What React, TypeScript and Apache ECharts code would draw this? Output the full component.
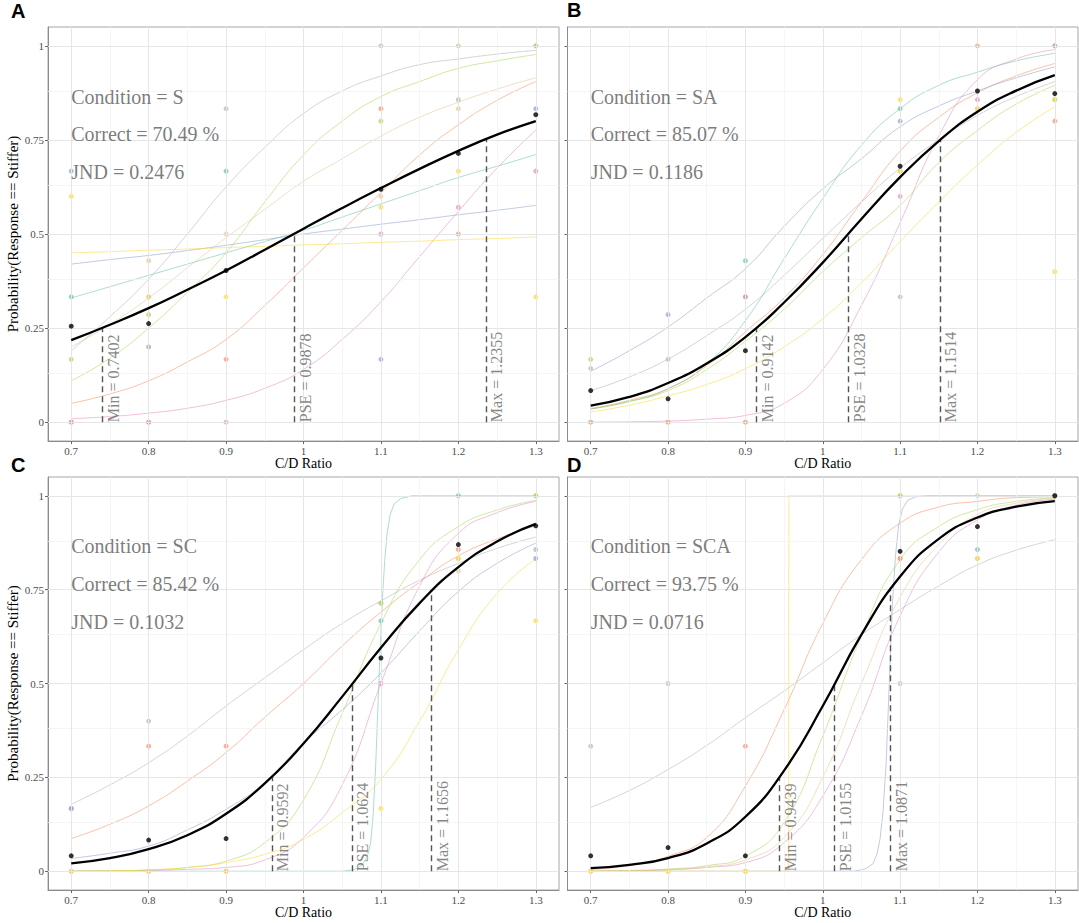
import React, { useEffect, useRef } from "react";
import * as echarts from "echarts";

// ---------- data ----------
const CURVE_X = [0.7, 0.75, 0.8, 0.85, 0.9, 0.95, 1.0, 1.05, 1.1, 1.15, 1.2, 1.25, 1.3];
const STIM_X = [0.7, 0.8, 0.9, 1.1, 1.2, 1.3];
const X_TICKS = [0.7, 0.8, 0.9, 1, 1.1, 1.2, 1.3];
const X_MINOR = [0.75, 0.85, 0.95, 1.05, 1.15, 1.25];
const Y_TICKS = [0, 0.25, 0.5, 0.75, 1];
const Y_MINOR = [0.125, 0.375, 0.625, 0.875];
const PANEL_LETTERS = ["A", "B", "C", "D"];

// participant order: 0 teal, 1 salmon, 2 blue, 3 pink, 4 green, 5 yellow, 6 tan, 7 gray
const PALETTE = ["#66C2A5", "#FC8D62", "#8DA0CB", "#E78AC3", "#A6D854", "#FFD92F", "#E5C494", "#B3B3B3"];

// ---- Condition S ----
const S_STATS = { cond: "S", correct: 70.49, jnd: 0.2476, min: 0.7402, pse: 0.9878, max: 1.2355 };
const S_MEAN_CURVE = [0.218, 0.259, 0.303, 0.352, 0.403, 0.458, 0.514, 0.569, 0.622, 0.673, 0.721, 0.764, 0.8];
const S_MEAN_POINTS = [0.255, 0.262, 0.403, 0.619, 0.714, 0.817];
const S_CURVES = [
  [0.33, 0.36, 0.39, 0.42, 0.45, 0.48, 0.51, 0.545, 0.58, 0.615, 0.65, 0.68, 0.711],
  [0.05, 0.075, 0.11, 0.16, 0.22, 0.31, 0.41, 0.51, 0.61, 0.71, 0.79, 0.855, 0.905],
  [0.42, 0.432, 0.443, 0.456, 0.47, 0.485, 0.5, 0.513, 0.526, 0.538, 0.551, 0.563, 0.576],
  [0.009, 0.015, 0.024, 0.037, 0.058, 0.09, 0.14, 0.22, 0.32, 0.44, 0.56, 0.675, 0.776],
  [0.11, 0.17, 0.25, 0.345, 0.45, 0.585, 0.71, 0.8, 0.865, 0.905, 0.94, 0.96, 0.977],
  [0.45, 0.453, 0.457, 0.46, 0.464, 0.467, 0.471, 0.474, 0.478, 0.481, 0.485, 0.488, 0.492],
  [0.2, 0.26, 0.33, 0.41, 0.49, 0.565, 0.64, 0.7, 0.76, 0.81, 0.85, 0.885, 0.915],
  [0.19, 0.28, 0.38, 0.5, 0.625, 0.73, 0.82, 0.88, 0.92, 0.95, 0.965, 0.978, 0.988],
];
const S_POINTS = [
  [0.7, 0.667, 2], [0.7, 0.6, 5], [0.7, 0.333, 0], [0.7, 0.167, 4], [0.7, 0, 1], [0.7, 0, 3],
  [0.8, 0.429, 6], [0.8, 0.333, 5], [0.8, 0.333, 6], [0.8, 0.286, 4], [0.8, 0.2, 6], [0.8, 0.2, 7], [0.8, 0, 1], [0.8, 0, 3],
  [0.9, 0.833, 7], [0.9, 0.667, 0], [0.9, 0.5, 6], [0.9, 0.333, 5], [0.9, 0.167, 1], [0.9, 0, 3],
  [1.1, 1, 7], [1.1, 0.833, 1], [1.1, 0.8, 4], [1.1, 0.6, 6], [1.1, 0.571, 5], [1.1, 0.5, 3], [1.1, 0.167, 2],
  [1.2, 1, 4], [1.2, 0.857, 7], [1.2, 0.833, 6], [1.2, 0.667, 5], [1.2, 0.571, 3], [1.2, 0.5, 1],
  [1.3, 1, 6], [1.3, 1, 4], [1.3, 0.833, 2], [1.3, 0.667, 3], [1.3, 0.333, 5],
];

// ---- Condition SA ----
const SA_STATS = { cond: "SA", correct: 85.07, jnd: 0.1186, min: 0.9142, pse: 1.0328, max: 1.1514 };
const SA_MEAN_CURVE = [0.044, 0.067, 0.104, 0.156, 0.226, 0.318, 0.424, 0.54, 0.651, 0.747, 0.825, 0.881, 0.922];
const SA_MEAN_POINTS = [0.084, 0.062, 0.19, 0.68, 0.88, 0.873];
const SA_CURVES = [
  [0.035, 0.055, 0.089, 0.155, 0.27, 0.434, 0.594, 0.736, 0.833, 0.895, 0.93, 0.96, 0.98],
  [0.035, 0.058, 0.089, 0.15, 0.24, 0.33, 0.445, 0.585, 0.72, 0.81, 0.875, 0.92, 0.953],
  [0.135, 0.19, 0.253, 0.33, 0.408, 0.52, 0.62, 0.7, 0.785, 0.84, 0.88, 0.915, 0.944],
  [0, 0.001, 0.003, 0.008, 0.018, 0.05, 0.14, 0.31, 0.53, 0.76, 0.91, 0.965, 0.99],
  [0.037, 0.055, 0.084, 0.14, 0.215, 0.3, 0.4, 0.49, 0.576, 0.69, 0.775, 0.845, 0.895],
  [0.027, 0.045, 0.07, 0.1, 0.142, 0.2, 0.275, 0.37, 0.48, 0.585, 0.683, 0.77, 0.838],
  null,
  [0.084, 0.12, 0.168, 0.23, 0.3, 0.39, 0.488, 0.585, 0.675, 0.75, 0.815, 0.865, 0.905],
];
const SA_POINTS = [
  [0.7, 0.167, 4], [0.7, 0.143, 7], [0.7, 0, 5], [0.7, 0, 1],
  [0.8, 0.286, 2], [0.8, 0.167, 7], [0.8, 0, 5], [0.8, 0, 1],
  [0.9, 0.429, 0], [0.9, 0.333, 7], [0.9, 0.333, 3], [0.9, 0, 5], [0.9, 0, 1],
  [1.1, 0.857, 5], [1.1, 0.833, 0], [1.1, 0.8, 2], [1.1, 0.667, 6], [1.1, 0.667, 5], [1.1, 0.6, 3], [1.1, 0.333, 7],
  [1.2, 1, 1], [1.2, 0.857, 3], [1.2, 0.833, 6], [1.2, 0.833, 5],
  [1.3, 1, 7], [1.3, 1, 3], [1.3, 0.857, 4], [1.3, 0.857, 5], [1.3, 0.8, 1], [1.3, 0.4, 5],
];

// ---- Condition SC ----
const SC_STATS = { cond: "SC", correct: 85.42, jnd: 0.1032, min: 0.9592, pse: 1.0624, max: 1.1656 };
const SC_MEAN_CURVE = [0.021, 0.035, 0.059, 0.096, 0.153, 0.234, 0.34, 0.465, 0.595, 0.714, 0.81, 0.878, 0.925];
const SC_MEAN_POINTS = [0.041, 0.083, 0.087, 0.568, 0.87, 0.92];
const SC_CURVES = [
  [[0.7, 0], [1.05, 0], [1.065, 0.004], [1.075, 0.015], [1.08, 0.03], [1.084, 0.05], [1.087, 0.08], [1.09, 0.15],
   [1.093, 0.27], [1.096, 0.43], [1.099, 0.59], [1.102, 0.73], [1.105, 0.83], [1.108, 0.9], [1.112, 0.95],
   [1.117, 0.978], [1.125, 0.992], [1.14, 1], [1.3, 1]],
  [0.087, 0.125, 0.174, 0.24, 0.316, 0.41, 0.5, 0.6, 0.69, 0.77, 0.84, 0.885, 0.92],
  [0.034, 0.048, 0.067, 0.11, 0.165, 0.236, 0.342, 0.43, 0.528, 0.64, 0.745, 0.82, 0.874],
  [0, 0.001, 0.002, 0.005, 0.01, 0.03, 0.09, 0.23, 0.5, 0.76, 0.9, 0.955, 0.985],
  [0, 0.001, 0.003, 0.01, 0.027, 0.076, 0.19, 0.42, 0.66, 0.83, 0.918, 0.962, 0.988],
  [0, 0.001, 0.004, 0.01, 0.023, 0.045, 0.085, 0.156, 0.245, 0.4, 0.59, 0.74, 0.832],
  null,
  [0.178, 0.23, 0.289, 0.36, 0.44, 0.515, 0.59, 0.66, 0.72, 0.775, 0.82, 0.86, 0.89],
];
const SC_POINTS = [
  [0.7, 0.167, 7], [0.7, 0.167, 2], [0.7, 0, 5], [0.7, 0, 6],
  [0.8, 0.4, 7], [0.8, 0.333, 1], [0.8, 0, 5], [0.8, 0, 6],
  [0.9, 0.333, 1], [0.9, 0, 5], [0.9, 0, 6],
  [1.1, 0.714, 6], [1.1, 0.714, 4], [1.1, 0.667, 0], [1.1, 0.5, 3], [1.1, 0.167, 5],
  [1.2, 1, 0], [1.2, 0.857, 1], [1.2, 0.833, 6], [1.2, 0.833, 5], [1.2, 0.8, 6],
  [1.3, 1, 6], [1.3, 1, 4], [1.3, 0.857, 7], [1.3, 0.833, 2], [1.3, 0.667, 5],
];

// ---- Condition SCA ----
const SCA_STATS = { cond: "SCA", correct: 93.75, jnd: 0.0716, min: 0.9439, pse: 1.0155, max: 1.0871 };
const SCA_MEAN_CURVE = [0.008, 0.017, 0.035, 0.074, 0.145, 0.268, 0.44, 0.63, 0.785, 0.885, 0.942, 0.971, 0.986];
const SCA_MEAN_POINTS = [0.041, 0.063, 0.041, 0.852, 0.918, 1.0];
const SCA_CURVES = [
  null,
  [0.005, 0.015, 0.04, 0.09, 0.227, 0.43, 0.66, 0.83, 0.927, 0.97, 0.985, 0.995, 0.997],
  [[0.7, 0], [1.04, 0], [1.055, 0.006], [1.065, 0.02], [1.07, 0.045], [1.074, 0.085], [1.078, 0.16], [1.082, 0.29],
   [1.086, 0.5], [1.09, 0.71], [1.094, 0.84], [1.098, 0.92], [1.103, 0.965], [1.11, 0.988], [1.12, 0.997],
   [1.135, 1], [1.3, 1]],
  [0, 0.001, 0.004, 0.01, 0.023, 0.076, 0.2, 0.413, 0.68, 0.85, 0.936, 0.975, 0.99],
  [0, 0.002, 0.006, 0.015, 0.04, 0.13, 0.36, 0.626, 0.83, 0.918, 0.963, 0.985, 0.994],
  [[0.7, 0], [0.956, 0], [0.9562, 1], [1.3, 1]],
  [0, 0.001, 0.004, 0.012, 0.03, 0.09, 0.25, 0.5, 0.73, 0.87, 0.95, 0.98, 0.993],
  [0.17, 0.215, 0.271, 0.335, 0.409, 0.48, 0.555, 0.63, 0.697, 0.76, 0.816, 0.855, 0.883],
];
const SCA_POINTS = [
  [0.7, 0.333, 7], [0.7, 0, 6], [0.7, 0, 5],
  [0.8, 0.5, 7], [0.8, 0, 6], [0.8, 0, 5],
  [0.9, 0.333, 1], [0.9, 0, 6], [0.9, 0, 5],
  [1.1, 1, 5], [1.1, 1, 4], [1.1, 0.833, 6], [1.1, 0.833, 1], [1.1, 0.5, 7],
  [1.2, 1, 6], [1.2, 0.857, 0], [1.2, 0.833, 6], [1.2, 0.833, 5],
  [1.3, 1, 6], [1.3, 1, 4],
];

const PANELS = [
  { stats: S_STATS, meanCurve: S_MEAN_CURVE, meanPts: S_MEAN_POINTS, curves: S_CURVES, pts: S_POINTS },
  { stats: SA_STATS, meanCurve: SA_MEAN_CURVE, meanPts: SA_MEAN_POINTS, curves: SA_CURVES, pts: SA_POINTS },
  { stats: SC_STATS, meanCurve: SC_MEAN_CURVE, meanPts: SC_MEAN_POINTS, curves: SC_CURVES, pts: SC_POINTS },
  { stats: SCA_STATS, meanCurve: SCA_MEAN_CURVE, meanPts: SCA_MEAN_POINTS, curves: SCA_CURVES, pts: SCA_POINTS },
];

// ---------- layout / style ----------
const GRID_RECTS = [
  { left: 48, top: 27, width: 511, height: 414 },
  { left: 567.5, top: 27, width: 510.5, height: 414 },
  { left: 48, top: 477, width: 511, height: 413 },
  { left: 567.5, top: 477, width: 510.5, height: 413 },
];
const LETTER_POS = [
  [11, 11], [567, 10], [11, 465], [567, 465],
];
const ANNOT_Y = [0.865, 0.765, 0.665];
const SERIF = "'Liberation Serif', 'Times New Roman', serif";
const SANS = "'Liberation Sans', Arial, sans-serif";
const MAJOR = { color: "#e6e6e6", width: 1, type: "solid" };
const MINOR = { color: "#f3f3f3", width: 0.8, type: "solid" };

const fmt = (v: number) => String(Math.round(v * 1000) / 1000);

function toPairs(c: any): number[][] {
  if (Array.isArray(c[0])) return c;
  return c.map((y: number, i: number) => [CURVE_X[i], y]);
}

function panelSeries(p: any, i: number) {
  const ax = { xAxisIndex: i, yAxisIndex: i };
  const out: any[] = [];
  const st = p.stats;
  out.push({
    type: "scatter", ...ax, data: [], symbolSize: 0, silent: true, z: 0,
    markLine: {
      silent: true, symbol: ["none", "none"], label: { show: false }, animation: false,
      data: [
        ...X_MINOR.map((v) => ({ xAxis: v, lineStyle: MINOR })),
        ...Y_MINOR.map((v) => ({ yAxis: v, lineStyle: MINOR })),
        ...X_TICKS.map((v) => ({ xAxis: v, lineStyle: MAJOR })),
        ...Y_TICKS.map((v) => ({ yAxis: v, lineStyle: MAJOR })),
      ],
    },
  });
  p.curves.forEach((c: any, k: number) => {
    if (!c) return;
    const explicit = Array.isArray(c[0]);
    out.push({
      type: "line", ...ax, data: toPairs(c), smooth: explicit ? false : 0.5,
      symbol: "none", silent: true, z: 2,
      lineStyle: { color: PALETTE[k], width: 1, opacity: 0.55 },
    });
  });
  out.push({
    type: "scatter", ...ax, silent: true, z: 3, symbolSize: 5,
    data: p.pts.map((d: number[]) => ({ value: [d[0], d[1]], itemStyle: { color: PALETTE[d[2]], opacity: 0.7, borderWidth: 0 } })),
  });
  out.push({
    type: "scatter", ...ax, data: [], symbolSize: 0, silent: true, z: 4,
    markLine: {
      silent: true, symbol: ["none", "none"], label: { show: false }, animation: false,
      lineStyle: { color: "#555555", width: 1.4, type: [6, 4] },
      data: [
        [{ coord: [st.min, 0] }, { coord: [st.min, 0.25] }],
        [{ coord: [st.pse, 0] }, { coord: [st.pse, 0.5] }],
        [{ coord: [st.max, 0] }, { coord: [st.max, 0.75] }],
      ],
    },
  });
  out.push({
    type: "line", ...ax, data: toPairs(p.meanCurve), smooth: 0.5, symbol: "none", silent: true, z: 5,
    lineStyle: { color: "#000", width: 2.3 },
  });
  out.push({
    type: "scatter", ...ax, silent: true, z: 6, symbolSize: 5,
    data: STIM_X.map((x, k) => [x, p.meanPts[k]]), itemStyle: { color: "#000", borderWidth: 0 },
  });
  out.push({
    type: "scatter", ...ax, silent: true, z: 7, symbolSize: 0,
    data: [
      { value: [st.min, 0], name: `Min = ${st.min.toFixed(4)}` },
      { value: [st.pse, 0], name: `PSE = ${st.pse.toFixed(4)}` },
      { value: [st.max, 0], name: `Max = ${st.max.toFixed(4)}` },
    ],
    label: {
      show: true, formatter: "{b}", position: "right", distance: 11, rotate: 90,
      align: "left", verticalAlign: "middle", fontSize: 16, fontFamily: SERIF, color: "#666666",
    },
  });
  out.push({
    type: "scatter", ...ax, silent: true, z: 7, symbolSize: 0,
    data: [
      { value: [0.7, ANNOT_Y[0]], name: `Condition = ${st.cond}` },
      { value: [0.7, ANNOT_Y[1]], name: `Correct = ${st.correct.toFixed(2)} %` },
      { value: [0.7, ANNOT_Y[2]], name: `JND = ${st.jnd.toFixed(4)}` },
    ],
    label: {
      show: true, formatter: "{b}", position: "right", distance: 0,
      align: "left", verticalAlign: "middle", fontSize: 20, fontFamily: SERIF, color: "#595959",
    },
  });
  return out;
}

export default function App() {
  const ref = useRef<HTMLDivElement>(null);
  useEffect(() => {
    if (!ref.current) return;
    const chart = echarts.init(ref.current, undefined, { renderer: "svg" });
    const grids = GRID_RECTS.map((r) => ({
      ...r, show: true, borderColor: "#a6a6a6", borderWidth: 1, backgroundColor: "#ffffff",
      containLabel: false, outerBoundsMode: "none",
    }));
    const xAxes = GRID_RECTS.map((_, i) => ({
      type: "value", gridIndex: i, min: 0.67, max: 1.33,
      name: "C/D Ratio", nameLocation: "middle", nameGap: 14,
      nameTextStyle: { fontFamily: SERIF, fontSize: 14, color: "#000" },
      axisLine: { show: true, onZero: false, lineStyle: { color: "#8c8c8c", width: 1 } },
      axisTick: { show: true, length: 3, customValues: X_TICKS, lineStyle: { color: "#666" } },
      axisLabel: { show: true, customValues: X_TICKS, margin: 4, fontSize: 11, color: "#4d4d4d", fontFamily: SERIF, formatter: fmt },
      splitLine: { show: false },
    }));
    const yAxes = GRID_RECTS.map((_, i) => ({
      type: "value", gridIndex: i, min: -0.05, max: 1.05,
      name: i % 2 === 0 ? "Probability(Response == Stiffer)" : "",
      nameLocation: "middle", nameGap: 28, nameRotate: 90,
      nameTextStyle: { fontFamily: SERIF, fontSize: 15, color: "#000" },
      axisLine: { show: true, onZero: false, lineStyle: { color: "#8c8c8c", width: 1 } },
      axisTick: { show: true, length: 3, customValues: Y_TICKS, lineStyle: { color: "#666" } },
      axisLabel: { show: i % 2 === 0, customValues: Y_TICKS, margin: 4, fontSize: 11, color: "#4d4d4d", fontFamily: SERIF, formatter: fmt },
      splitLine: { show: false },
    }));
    const series = PANELS.flatMap((p, i) => panelSeries(p, i));
    chart.setOption({
      animation: false,
      backgroundColor: "#ffffff",
      grid: grids,
      xAxis: xAxes,
      yAxis: yAxes,
      series,
      graphic: PANEL_LETTERS.map((t, i) => ({
        type: "text", x: LETTER_POS[i][0], y: LETTER_POS[i][1], silent: true,
        style: { text: t, fontSize: 20, fontWeight: "bold", fontFamily: SANS, fill: "#000", align: "left", verticalAlign: "middle" },
      })),
    });
    return () => chart.dispose();
  }, []);
  return <div ref={ref} style={{ position: "absolute", left: 0, top: 0, width: 1079, height: 923, background: "#fff" }} />;
}
